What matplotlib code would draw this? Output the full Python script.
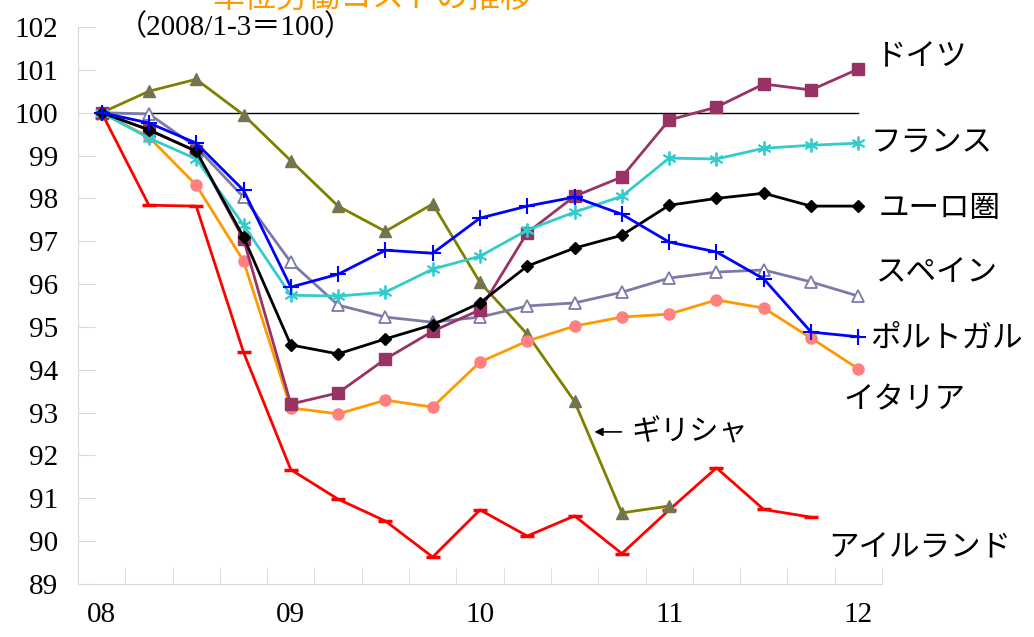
import numpy as np
import matplotlib.pyplot as plt

# quarterly index, 2008 Q1 = 100
quarters = np.arange(17)
year_labels = ["08", "09", "10", "11", "12"]

germany = [100, 99.6, 99.1, 97.05, 93.2, 93.46, 94.25, 94.9, 95.4, 97.2, 98.05, 98.5, 99.83, 100.13, 100.67, 100.53, 101.02]
france = [100, 99.41, 98.92, 97.38, 95.74, 95.72, 95.81, 96.35, 96.65, 97.26, 97.68, 98.05, 98.94, 98.92, 99.17, 99.24, 99.29]
euro = [100, 99.6, 99.1, 97.1, 94.58, 94.37, 94.72, 95.05, 95.56, 96.42, 96.84, 97.14, 97.84, 98.0, 98.12, 97.82, 97.82]
spain = [100, 99.97, 99.2, 98.03, 96.51, 95.51, 95.23, 95.11, 95.23, 95.49, 95.56, 95.81, 96.14, 96.28, 96.33, 96.05, 95.72]
portugal = [100, 99.76, 99.29, 98.19, 95.93, 96.23, 96.79, 96.72, 97.54, 97.82, 98.03, 97.63, 96.98, 96.75, 96.12, 94.88, 94.77]
italy = [100, 99.43, 98.31, 96.54, 93.11, 92.97, 93.29, 93.13, 94.18, 94.67, 95.02, 95.23, 95.3, 95.63, 95.44, 94.74, 94.02]
greece = [100, 100.5, 100.78, 99.95, 98.88, 97.82, 97.23, 97.87, 96.04, 94.83, 93.26, 90.66, 90.82]
ireland = [100, 97.84, 97.82, 94.41, 91.67, 90.98, 90.47, 89.63, 90.73, 90.12, 90.59, 89.71, 90.73, 91.71, 90.74, 90.56]

names = ["ドイツ", "フランス", "ユーロ圏", "スペイン", "ポルトガル", "イタリア", "ギリシャ", "アイルランド"]

jp = ["Noto Sans CJK JP", "DejaVu Sans"]
serif = ["Liberation Serif", "Noto Sans CJK JP"]

fig = plt.figure(figsize=(10.34, 6.37), dpi=100)
ax = fig.add_axes([0.0754, 0.0832, 0.7776, 0.8744])

ax.axhline(100, xmin=0.5 / 17, xmax=16.5 / 17, color="black", lw=1)

lw = 2.0
ax.plot(quarters[:len(ireland)], ireland, color="#FF0000", lw=lw, marker="_", ms=10, mew=2.5)
ax.plot(quarters[:len(greece)], greece, color="#808000", lw=lw, marker="^", ms=8,
        mfc="#74744F", mec="#74744F")
ax.plot(quarters, italy, color="#FF9900", lw=lw, marker="o", ms=8, mfc="#FF8080", mec="#FF8080")
ax.plot(quarters, spain, color="#7B7BA8", lw=lw, marker="^", ms=9, mfc="white", mec="#7B7BA8", mew=1.3)
ax.plot(quarters, germany, color="#993366", lw=lw, marker="s", ms=8)
ax.plot(quarters, france, color="#33CCCC", lw=lw, marker=(6, 2, 0), ms=10, mew=1.3)
ax.plot(quarters, euro, color="black", lw=lw, marker="D", ms=6.5)
ax.plot(quarters, portugal, color="#0000FF", lw=lw, marker="+", ms=12, mew=1.5)

ax.set_xlim(-0.5, 16.5)
ax.set_ylim(89, 102)

for s in ["top", "right"]:
    ax.spines[s].set_visible(False)
for s in ["left", "bottom"]:
    ax.spines[s].set_color("#D9D9D9")

ax.set_yticks(np.arange(89, 103))
ax.tick_params(axis="y", direction="in", length=12, color="#D9D9D9", pad=14, labelsize=21)
ax.set_xticks(quarters[::4])
ax.set_xticklabels(year_labels)
ax.set_xticks(np.arange(-0.5, 17), minor=True)
ax.tick_params(axis="x", which="major", length=0, pad=13, labelsize=21)
ax.tick_params(axis="x", which="minor", direction="in", length=12, color="#D9D9D9")
for t in ax.get_xticklabels() + ax.get_yticklabels():
    t.set_family(serif)

# series names at the right end of each line
label_pos = [(16.38, 101.3), (16.25, 99.32), (16.42, 97.77), (16.38, 96.28),
             (16.25, 94.74), (15.68, 93.29), None, (15.37, 89.84)]
for name, pos in zip(names, label_pos):
    if pos is None:
        continue
    ax.text(pos[0], pos[1], name, family=jp, fontsize=22, va="center", ha="left", clip_on=False)

ax.annotate("", xy=(10.36, 92.55), xytext=(11.05, 92.55),
            arrowprops=dict(arrowstyle="-|>", color="black", lw=1.2, mutation_scale=12))
ax.text(11.2, 92.55, names[6], family=jp, fontsize=21, va="center", ha="left")

ax.text(0.35, 102.0, "（2008/1-3＝100）", family=serif, fontsize=21, va="center", ha="left")

fig.text(0.205, 1 - 7 / 637, "単位労働コストの推移", family=jp, fontsize=23,
         color="#FF9900", va="baseline", ha="left")

fig.savefig("out.png", dpi=100)
